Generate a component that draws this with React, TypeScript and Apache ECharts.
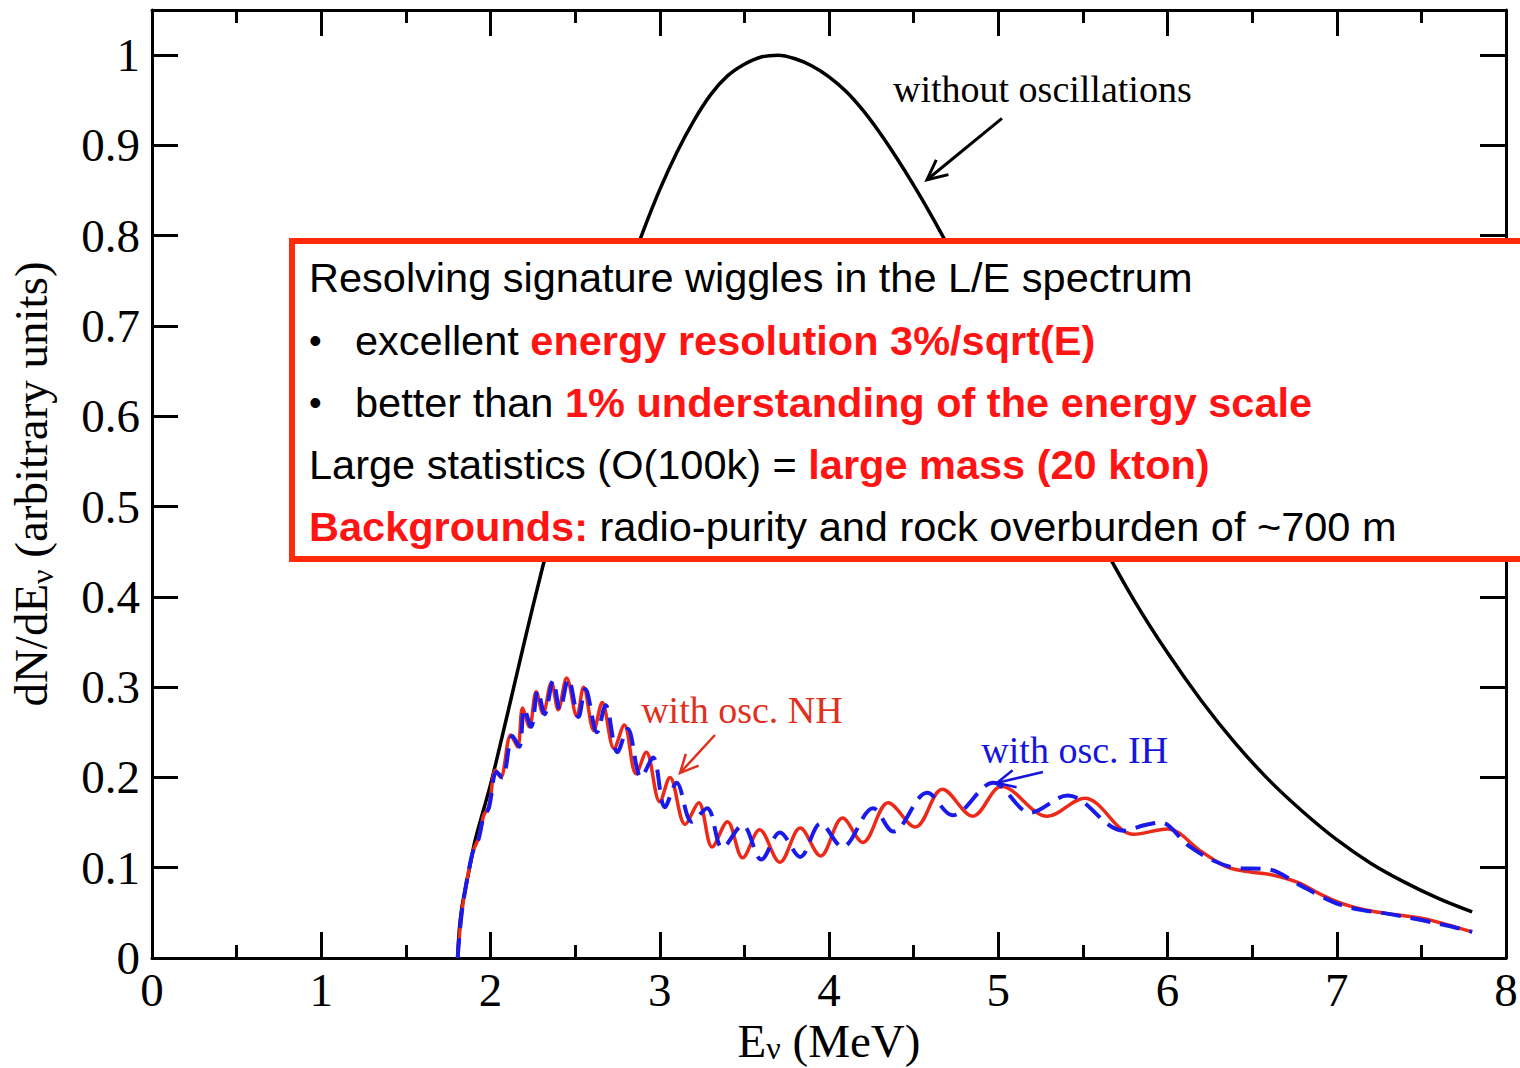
import React, { useEffect, useRef } from "react";
import * as echarts from "echarts";

// Spectrum without oscillations (normalised to its maximum)
const plainE = [1.806, 1.815, 1.83, 1.85, 1.88, 1.91, 2.0, 2.1, 2.2, 2.3, 2.4, 2.5, 2.6, 2.7, 2.8, 2.9, 3.0, 3.1, 3.2, 3.3, 3.4, 3.5, 3.6, 3.7, 3.8, 3.9, 4.0, 4.1, 4.2, 4.3, 4.4, 4.5, 4.6, 4.7, 4.8, 4.9, 5.0, 5.2, 5.4, 5.6, 5.8, 6.0, 6.2, 6.4, 6.6, 6.8, 7.0, 7.2, 7.4, 7.6, 7.8];
const plainN = [0, 0.03, 0.055, 0.075, 0.103, 0.131, 0.192, 0.27, 0.35, 0.427, 0.5, 0.569, 0.634, 0.695, 0.752, 0.804, 0.851, 0.892, 0.927, 0.956, 0.977, 0.99, 0.998, 1.0, 0.996, 0.988, 0.976, 0.96, 0.939, 0.914, 0.886, 0.856, 0.824, 0.79, 0.755, 0.72, 0.684, 0.611, 0.537, 0.464, 0.397, 0.338, 0.285, 0.238, 0.197, 0.162, 0.131, 0.105, 0.084, 0.066, 0.051];

// Oscillated spectrum, normal hierarchy
const nhE = [1.806, 1.815, 1.83, 1.85, 1.88, 1.9, 1.93, 1.96, 1.99, 2.03, 2.06, 2.12, 2.16, 2.19, 2.23, 2.27, 2.31, 2.36, 2.4, 2.45, 2.51, 2.55, 2.61, 2.66, 2.73, 2.79, 2.86, 2.92, 3.0, 3.06, 3.15, 3.23, 3.31, 3.4, 3.49, 3.59, 3.71, 3.83, 3.95, 4.08, 4.2, 4.35, 4.51, 4.67, 4.85, 5.02, 5.29, 5.51, 5.8, 6.0, 6.2, 6.35, 6.5, 6.62, 6.78, 6.9, 7.02, 7.15, 7.27, 7.5, 7.65, 7.8];
const nhN = [0, 0.022, 0.05, 0.075, 0.105, 0.12, 0.133, 0.158, 0.168, 0.208, 0.2, 0.247, 0.234, 0.277, 0.256, 0.295, 0.271, 0.305, 0.275, 0.31, 0.268, 0.3, 0.252, 0.283, 0.232, 0.258, 0.204, 0.228, 0.173, 0.2, 0.148, 0.172, 0.123, 0.151, 0.111, 0.142, 0.106, 0.144, 0.113, 0.155, 0.128, 0.172, 0.145, 0.187, 0.157, 0.19, 0.157, 0.177, 0.137, 0.143, 0.118, 0.101, 0.095, 0.092, 0.083, 0.071, 0.061, 0.054, 0.05, 0.044, 0.037, 0.029];

// Oscillated spectrum, inverted hierarchy
const ihE = [1.806, 1.815, 1.83, 1.85, 1.88, 1.9, 1.93, 1.96, 1.99, 2.035, 2.07, 2.13, 2.17, 2.2, 2.24, 2.28, 2.32, 2.37, 2.41, 2.46, 2.52, 2.56, 2.63, 2.68, 2.75, 2.81, 2.89, 2.96, 3.03, 3.1, 3.19, 3.28, 3.37, 3.49, 3.6, 3.71, 3.83, 3.95, 4.08, 4.26, 4.38, 4.58, 4.73, 4.97, 5.19, 5.41, 5.74, 5.86, 5.96, 6.12, 6.27, 6.4, 6.6, 6.78, 6.9, 7.02, 7.15, 7.27, 7.5, 7.65, 7.8];
const ihN = [0, 0.022, 0.05, 0.075, 0.105, 0.12, 0.132, 0.157, 0.166, 0.206, 0.2, 0.246, 0.234, 0.276, 0.256, 0.296, 0.27, 0.307, 0.275, 0.309, 0.267, 0.298, 0.25, 0.28, 0.228, 0.254, 0.2, 0.222, 0.167, 0.194, 0.151, 0.166, 0.122, 0.147, 0.109, 0.139, 0.112, 0.149, 0.123, 0.166, 0.14, 0.183, 0.158, 0.194, 0.161, 0.18, 0.141, 0.147, 0.15, 0.125, 0.108, 0.1, 0.098, 0.081, 0.069, 0.059, 0.053, 0.05, 0.042, 0.036, 0.029];

const SERIF = "'Liberation Serif', 'Times New Roman', serif";
const SANS = "'Liberation Sans', Arial, sans-serif";
const RED_LINE = "#ec2a1a";
const BLUE_LINE = "#1a1aea";
const RED_TEXT = "#ff1414";

const zip = (xs: number[], ys: number[]) => xs.map((x, i) => [x, ys[i]]);

const commonX = {
  type: "value",
  min: 0,
  max: 8,
  interval: 1,
  splitLine: { show: false },
  axisLine: { show: true, onZero: false, lineStyle: { color: "#000", width: 3 } },
  axisTick: { show: true, inside: true, length: 26, lineStyle: { color: "#000", width: 3 } },
  minorTick: { show: true, splitNumber: 2, length: 13, lineStyle: { color: "#000", width: 3 } },
};

const commonY = {
  type: "value",
  min: 0,
  max: 1.05,
  interval: 0.1,
  splitLine: { show: false },
  axisLine: { show: true, onZero: false, lineStyle: { color: "#000", width: 3 } },
  axisTick: { show: true, inside: true, length: 26, lineStyle: { color: "#000", width: 3 } },
};

const yLabel = (v: number) => {
  const r = Math.round(v * 10) / 10;
  if (Math.abs(r - v) > 1e-6 || r > 1.0001) return "";
  return String(r);
};

// Text block inside the red frame
const boxLines: { bullet: boolean; parts: [string, string][] }[] = [
  { bullet: false, parts: [["n", "Resolving signature wiggles in the L/E spectrum"]] },
  { bullet: true, parts: [["n", "excellent "], ["r", "energy resolution 3%/sqrt(E)"]] },
  { bullet: true, parts: [["n", "better than "], ["r", "1% understanding of the energy scale"]] },
  { bullet: false, parts: [["n", "Large statistics (O(100k) = "], ["r", "large mass (20 kton)"]] },
  { bullet: false, parts: [["r", "Backgrounds:"], ["n", " radio-purity and rock overburden of ~700 m"]] },
];

function arrow(tail: number[], tip: number[], color: string, width: number, head: number) {
  const dx = tail[0] - tip[0];
  const dy = tail[1] - tip[1];
  const len = Math.hypot(dx, dy);
  const ux = dx / len;
  const uy = dy / len;
  const a = 0.45;
  const arm = (ang: number) => [
    tip[0] + head * (ux * Math.cos(ang) - uy * Math.sin(ang)),
    tip[1] + head * (ux * Math.sin(ang) + uy * Math.cos(ang)),
  ];
  return [
    { type: "line", z: 60, shape: { x1: tail[0], y1: tail[1], x2: tip[0], y2: tip[1] }, style: { stroke: color, lineWidth: width } },
    { type: "polyline", z: 60, shape: { points: [arm(a), tip, arm(-a)] }, style: { stroke: color, lineWidth: width, fill: null } },
  ];
}

export default function App() {
  const ref = useRef<HTMLDivElement>(null);

  useEffect(() => {
    if (!ref.current) return;
    const chart = echarts.init(ref.current, null, { renderer: "svg" });

    const nameStyle = (subPad: number) => ({
      fontFamily: SERIF,
      fontSize: 47,
      color: "#000",
      lineHeight: 46,
      rich: { s: { fontFamily: SERIF, fontSize: 32, color: "#000", lineHeight: 24, padding: [subPad, 0, 0, 0] } },
    });

    const option: any = {
      animation: false,
      backgroundColor: "#fff",
      grid: { left: 152, right: 14, top: 10, bottom: 110, containLabel: false, outerBoundsMode: "none" },
      xAxis: [
        {
          ...commonX,
          position: "bottom",
          name: "E{s|ν} (MeV)",
          nameLocation: "middle",
          nameGap: 42,
          nameTextStyle: nameStyle(14),
          axisLabel: { show: true, fontFamily: SERIF, fontSize: 47, color: "#000", margin: 8 },
        },
        { ...commonX, position: "top", axisLabel: { show: false } },
      ],
      yAxis: [
        {
          ...commonY,
          position: "left",
          name: "dN/dE{s|ν} (arbitrary units)",
          nameLocation: "middle",
          nameGap: 98,
          nameTextStyle: nameStyle(22),
          axisLabel: { show: true, fontFamily: SERIF, fontSize: 47, color: "#000", margin: 12, formatter: yLabel },
        },
        { ...commonY, position: "right", axisLabel: { show: false } },
      ],
      series: [
        {
          name: "without oscillations",
          type: "line",
          data: zip(plainE, plainN),
          smooth: 0.35,
          showSymbol: false,
          symbol: "none",
          z: 2,
          lineStyle: { color: "#000", width: 3.5 },
        },
        {
          name: "with osc. NH",
          type: "line",
          data: zip(nhE, nhN),
          smooth: 0.35,
          showSymbol: false,
          symbol: "none",
          z: 3,
          lineStyle: { color: RED_LINE, width: 3.5 },
        },
        {
          name: "with osc. IH",
          type: "line",
          data: zip(ihE, ihN),
          smooth: 0.35,
          showSymbol: false,
          symbol: "none",
          z: 4,
          lineStyle: { color: BLUE_LINE, width: 4, type: [20, 10] },
        },
      ],
    };
    chart.setOption(option);

    const px = (e: number, n: number) => chart.convertToPixel({ gridIndex: 0 }, [e, n]) as number[];

    const graphics: any[] = [];

    // Annotations on the curves
    const woPos = px(4.378, 0.963);
    graphics.push({
      type: "text",
      z: 60,
      x: woPos[0],
      y: woPos[1],
      style: { text: "without oscillations", fontFamily: SERIF, fontSize: 38, fill: "#000", align: "left", verticalAlign: "middle" },
    });
    graphics.push(...arrow(px(5.022, 0.93), px(4.579, 0.862), "#000", 3, 22));

    const nhPos = px(2.89, 0.275);
    graphics.push({
      type: "text",
      z: 60,
      x: nhPos[0],
      y: nhPos[1],
      style: { text: "with osc. NH", fontFamily: SERIF, fontSize: 38, fill: "#e0301e", align: "left", verticalAlign: "middle" },
    });
    graphics.push(...arrow(px(3.326, 0.247), px(3.12, 0.205), "#e0301e", 2.5, 20));

    const ihPos = px(4.9, 0.23);
    graphics.push({
      type: "text",
      z: 60,
      x: ihPos[0],
      y: ihPos[1],
      style: { text: "with osc. IH", fontFamily: SERIF, fontSize: 38, fill: "#1515dc", align: "left", verticalAlign: "middle" },
    });
    graphics.push(...arrow(px(5.264, 0.206), px(4.993, 0.194), "#1515dc", 2.5, 20));

    // Red framed text box
    graphics.push({
      type: "rect",
      z: 50,
      shape: { x: 292, y: 241, width: 1300, height: 318 },
      style: { fill: "#fff", stroke: "#ff2a0a", lineWidth: 6 },
    });

    const rich = {
      n: { fontFamily: SANS, fontSize: 41.5, fontWeight: "normal", fill: "#000" },
      r: { fontFamily: SANS, fontSize: 41.5, fontWeight: "bold", fill: RED_TEXT },
    };
    const lineY = [277, 340, 402, 464, 526];
    boxLines.forEach((line, i) => {
      if (line.bullet) {
        graphics.push({
          type: "text",
          z: 60,
          x: 309,
          y: lineY[i],
          style: { text: "•", fontFamily: SANS, fontSize: 36, fill: "#000", align: "left", verticalAlign: "middle" },
        });
      }
      graphics.push({
        type: "text",
        z: 60,
        x: line.bullet ? 355 : 309,
        y: lineY[i],
        style: {
          text: line.parts.map(([k, t]) => `{${k}|${t}}`).join(""),
          rich,
          align: "left",
          verticalAlign: "middle",
        },
      });
    });

    chart.setOption({ graphic: graphics });

    return () => chart.dispose();
  }, []);

  return (
    <div
      ref={ref}
      style={{ position: "absolute", left: 0, top: 0, width: 1520, height: 1068, background: "#fff" }}
    />
  );
}
